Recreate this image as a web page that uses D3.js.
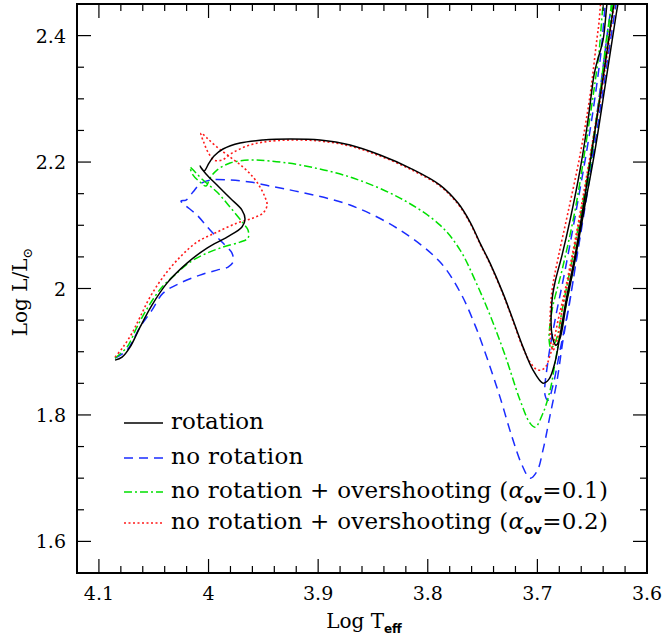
<!DOCTYPE html>
<html><head><meta charset="utf-8">
<script src="https://cdn.jsdelivr.net/npm/d3@7"></script>
<style>body{margin:0;background:#fff}</style>
</head><body>
<svg id="c" width="665" height="641"></svg>
<script>
// ---- data: [log Teff, log L/Lsun] ----
const rotation = [[4.0853,1.8867],[4.0789,1.8915],[4.0716,1.9073],[4.0625,1.9389],[4.0516,1.9737],[4.0379,2.0085],[4.0196,2.0402],[4.0014,2.0639],[3.9831,2.0813],[3.9695,2.0972],[3.9667,2.1098],[3.9695,2.1241],[3.9804,2.1430],[3.9923,2.1636],[4.0023,2.1810],[4.0078,2.1937],[4.0041,2.1858],[3.9996,2.1984],[3.9950,2.2095],[3.9868,2.2206],[3.9713,2.2301],[3.9503,2.2348],[3.9257,2.2364],[3.8983,2.2348],[3.8709,2.2269],[3.8435,2.2111],[3.8162,2.1905],[3.7888,2.1636],[3.7724,2.1351],[3.7614,2.1051],[3.7523,2.0718],[3.7432,2.0402],[3.7314,1.9927],[3.7222,1.9500],[3.7131,1.9073],[3.7040,1.8709],[3.6949,1.8503],[3.6894,1.8566],[3.6839,1.8835],[3.6793,1.9263],[3.6738,1.9816],[3.6656,2.0528],[3.6565,2.1478],[3.6474,2.2506],[3.6383,2.3535],[3.6310,2.4405],[3.6264,2.488],[3.6319,2.488],[3.6401,2.393],[3.6456,2.358],[3.6483,2.338],[3.6538,2.2665],[3.6611,2.1873],[3.6702,2.1082],[3.6775,2.0528],[3.6839,2.0101],[3.6866,1.9816],[3.6866,1.9263],[3.6830,1.9104],[3.6793,1.9215],[3.6738,1.9737],[3.6665,2.0370],[3.6574,2.1241],[3.6474,2.2190],[3.6374,2.3297],[3.6282,2.4326],[3.6227,2.488]];
const noRotation = [[4.0853,1.8899],[4.0744,1.9025],[4.0625,1.9389],[4.0516,1.9658],[4.0415,1.9927],[4.0260,2.0085],[4.0078,2.0212],[3.9923,2.0291],[3.9822,2.0339],[3.9777,2.0418],[3.9786,2.0560],[3.9868,2.0718],[3.9986,2.0924],[4.0105,2.1161],[4.0215,2.1320],[4.0251,2.1383],[4.0205,2.1399],[4.0142,2.1525],[4.0078,2.1652],[3.9986,2.1715],[3.9804,2.1715],[3.9622,2.1684],[3.9439,2.1620],[3.9165,2.1525],[3.8709,2.1320],[3.8253,2.0924],[3.7888,2.0418],[3.7705,1.9943],[3.7569,1.9421],[3.7459,1.8899],[3.7341,1.8282],[3.7231,1.7649],[3.7140,1.7206],[3.7067,1.7000],[3.7003,1.7111],[3.6949,1.7443],[3.6884,1.7997],[3.6820,1.8551],[3.6766,1.9184],[3.6702,1.9816],[3.6611,2.0845],[3.6519,2.1921],[3.6446,2.2902],[3.6364,2.4009],[3.6310,2.488],[3.6337,2.488],[3.6428,2.3614],[3.6519,2.2506],[3.6629,2.1399],[3.6747,2.0291],[3.6839,1.9500],[3.6902,1.8867],[3.6930,1.8313],[3.6902,1.8234],[3.6857,1.8472],[3.6793,1.9025],[3.6720,1.9658],[3.6629,2.0608],[3.6519,2.1794],[3.6401,2.3139],[3.6291,2.4405],[3.6246,2.488]];
const overshoot01 = [[4.0853,1.8899],[4.0744,1.9073],[4.0653,1.9389],[4.0552,1.9706],[4.0424,2.0022],[4.0288,2.0244],[4.0169,2.0418],[4.0014,2.0560],[3.9868,2.0655],[3.9713,2.0734],[3.9640,2.0797],[3.9640,2.0924],[3.9685,2.1035],[3.9804,2.1288],[3.9923,2.1525],[4.0050,2.1715],[4.0123,2.1842],[4.0169,2.1921],[4.0141,2.1794],[4.0078,2.1684],[4.0023,2.1620],[3.9986,2.1747],[3.9923,2.1873],[3.9804,2.1984],[3.9622,2.2032],[3.9439,2.2016],[3.9165,2.1953],[3.8709,2.1763],[3.8253,2.1430],[3.7888,2.1003],[3.7705,2.0608],[3.7569,2.0133],[3.7432,1.9579],[3.7295,1.8946],[3.7158,1.8234],[3.7067,1.7870],[3.7021,1.7807],[3.6949,1.8028],[3.6884,1.8392],[3.6839,1.8820],[3.6793,1.9294],[3.6729,1.9816],[3.6638,2.0655],[3.6547,2.1604],[3.6456,2.2712],[3.6383,2.3772],[3.6319,2.488],[3.6355,2.488],[3.6446,2.3614],[3.6538,2.2506],[3.6656,2.1241],[3.6775,2.0291],[3.6866,1.9658],[3.6893,1.9184],[3.6875,1.9057],[3.6830,1.9184],[3.6766,1.9737],[3.6684,2.0449],[3.6574,2.1478],[3.6464,2.2665],[3.6355,2.3930],[3.6282,2.488]];
const overshoot02 = [[4.0853,1.8915],[4.0780,1.9073],[4.0698,1.9294],[4.0625,1.9547],[4.0534,1.9864],[4.0415,2.0180],[4.0260,2.0497],[4.0105,2.0734],[3.9923,2.0892],[3.9740,2.1035],[3.9594,2.1114],[3.9503,2.1193],[3.9466,2.1320],[3.9485,2.1446],[3.9530,2.1604],[3.9594,2.1763],[3.9685,2.1921],[3.9804,2.2079],[3.9923,2.2237],[4.0014,2.2380],[4.0069,2.2459],[4.0041,2.2301],[4.0005,2.2158],[3.9950,2.2032],[3.9877,2.2032],[3.9786,2.2142],[3.9649,2.2253],[3.9503,2.2316],[3.9257,2.2348],[3.8983,2.2332],[3.8709,2.2253],[3.8435,2.2095],[3.8162,2.1889],[3.7888,2.1620],[3.7724,2.1335],[3.7614,2.1035],[3.7523,2.0703],[3.7432,2.0386],[3.7314,1.9911],[3.7222,1.9484],[3.7131,1.9057],[3.7067,1.8835],[3.7012,1.8725],[3.6966,1.8709],[3.6921,1.8772],[3.6884,1.8946],[3.6857,1.9104],[3.6811,1.9500],[3.6747,1.9975],[3.6656,2.0766],[3.6565,2.1636],[3.6464,2.2665],[3.6374,2.3693],[3.6301,2.488],[3.6374,2.488],[3.6446,2.4089],[3.6519,2.3060],[3.6611,2.2111],[3.6720,2.1209],[3.6811,2.0481],[3.6866,1.9975],[3.6884,1.9500],[3.6875,1.9104],[3.6857,1.9025],[3.6820,1.9184],[3.6766,1.9737],[3.6684,2.0418],[3.6583,2.1399],[3.6474,2.2506],[3.6364,2.3693],[3.6273,2.488]];

const xTicks = [4.1, 4.0, 3.9, 3.8, 3.7, 3.6];
const xTickLabels = ["4.1", "4", "3.9", "3.8", "3.7", "3.6"];
const yTicks = [1.6, 1.8, 2.0, 2.2, 2.4];
const yTickLabels = ["1.6", "1.8", "2", "2.2", "2.4"];
const legendLabels = ["rotation", "no rotation", "no rotation + overshooting (", "no rotation + overshooting ("];
const legendAlpha = ["", "", "0.1", "0.2"];

// ---- layout ----
const L = 77, R = 647, T = 4, B = 573;
const x = d3.scaleLinear().domain([4.12, 3.6]).range([L, R]);
const y = d3.scaleLinear().domain([1.55, 2.45]).range([B, T]);
const svg = d3.select("#c");
const font = "DejaVu Serif, serif";

svg.append("defs").append("clipPath").attr("id","clip")
  .append("rect").attr("x",L).attr("y",T).attr("width",R-L).attr("height",B-T);

const series = [
  {data: rotation, color: "#000000", dash: null, w: 1.5},
  {data: noRotation, color: "#1a2cff", dash: "9,6", w: 1.5},
  {data: overshoot01, color: "#00e000", dash: "8,3,2,3", w: 1.5},
  {data: overshoot02, color: "#ff1a1a", dash: "2,2.5", w: 1.6}
];
const line = d3.line().x(d => x(d[0])).y(d => y(d[1])).curve(d3.curveCatmullRom.alpha(0.5));
const g = svg.append("g").attr("clip-path","url(#clip)");
[1,2,3,0].forEach(i => {
  const s = series[i];
  g.append("path").attr("d", line(s.data)).attr("fill","none")
   .attr("stroke", s.color).attr("stroke-width", s.w)
   .attr("stroke-dasharray", s.dash).attr("stroke-linejoin","round");
});

// ---- axes (ticks inward on all sides) ----
const axG = svg.append("g");
const xMinor = d3.range(0, 27).map(i => +(4.12 - i*0.02).toFixed(2)).filter(v => v <= 4.12 && v >= 3.6);
xMinor.forEach(v => {
  const major = xTicks.some(t => Math.abs(t - v) < 1e-6);
  const len = major ? 14 : 7;
  axG.append("line").attr("x1", x(v)).attr("x2", x(v)).attr("y1", B).attr("y2", B-len).attr("stroke","#000").attr("stroke-width",1.2);
  axG.append("line").attr("x1", x(v)).attr("x2", x(v)).attr("y1", T).attr("y2", T+len).attr("stroke","#000").attr("stroke-width",1.2);
});
const yMinor = d3.range(0, 19).map(i => +(1.55 + i*0.05).toFixed(2)).filter(v => v > 1.55 && v < 2.45);
yMinor.forEach(v => {
  const major = yTicks.some(t => Math.abs(t - v) < 1e-6);
  const len = major ? 14 : 7;
  axG.append("line").attr("x1", L).attr("x2", L+len).attr("y1", y(v)).attr("y2", y(v)).attr("stroke","#000").attr("stroke-width",1.2);
  axG.append("line").attr("x1", R).attr("x2", R-len).attr("y1", y(v)).attr("y2", y(v)).attr("stroke","#000").attr("stroke-width",1.2);
});
axG.append("rect").attr("x",L).attr("y",T).attr("width",R-L).attr("height",B-T)
  .attr("fill","none").attr("stroke","#000").attr("stroke-width",2);

xTicks.forEach((v,i) => {
  axG.append("text").attr("x", x(v)).attr("y", 600).attr("text-anchor","middle")
    .attr("font-family", font).attr("font-size", 19).text(xTickLabels[i]);
});
yTicks.forEach((v,i) => {
  axG.append("text").attr("x", 66).attr("y", y(v)+7).attr("text-anchor","end")
    .attr("font-family", font).attr("font-size", 19).text(yTickLabels[i]);
});

// axis titles
const xt = svg.append("text").attr("x", 364).attr("y", 628).attr("text-anchor","middle")
  .attr("font-family", font).attr("font-size", 20);
xt.append("tspan").text("Log T");
xt.append("tspan").attr("dy", 5).attr("font-size", 12).attr("font-family","DejaVu Sans, sans-serif").attr("font-weight","bold").text("eff");

const yt = svg.append("text").attr("transform","translate(27,292) rotate(-90)").attr("text-anchor","middle")
  .attr("font-family", font).attr("font-size", 20);
yt.append("tspan").text("Log L/L");
yt.append("tspan").attr("dy", 5).attr("font-size", 13).text("⊙");

// ---- legend ----
const legY = [423, 458, 492, 523];
const legW = [93, 133, 437, 437];
series.forEach((s,i) => {
  svg.append("line").attr("x1",124).attr("x2",163).attr("y1",legY[i]).attr("y2",legY[i])
    .attr("stroke", s.color).attr("stroke-width", s.w).attr("stroke-dasharray", s.dash);
  const t = svg.append("text").attr("x",171).attr("y",legY[i]+6)
    .attr("font-family", font).attr("font-size", 23);
  t.append("tspan").text(legendLabels[i]);
  if (legendAlpha[i]) {
    t.append("tspan").attr("font-style","italic").text("α");
    t.append("tspan").attr("dy",5).attr("font-size",13).attr("font-family","DejaVu Sans, sans-serif").attr("font-weight","bold").text("ov");
    t.append("tspan").attr("dy",-5).text("=" + legendAlpha[i] + ")");
  }
  const w = t.node().getBBox().width;
  const n = t.text().length;
  if (n > 1) t.attr("letter-spacing", ((legW[i] - w) / n).toFixed(2));
});
</script>
</body></html>
